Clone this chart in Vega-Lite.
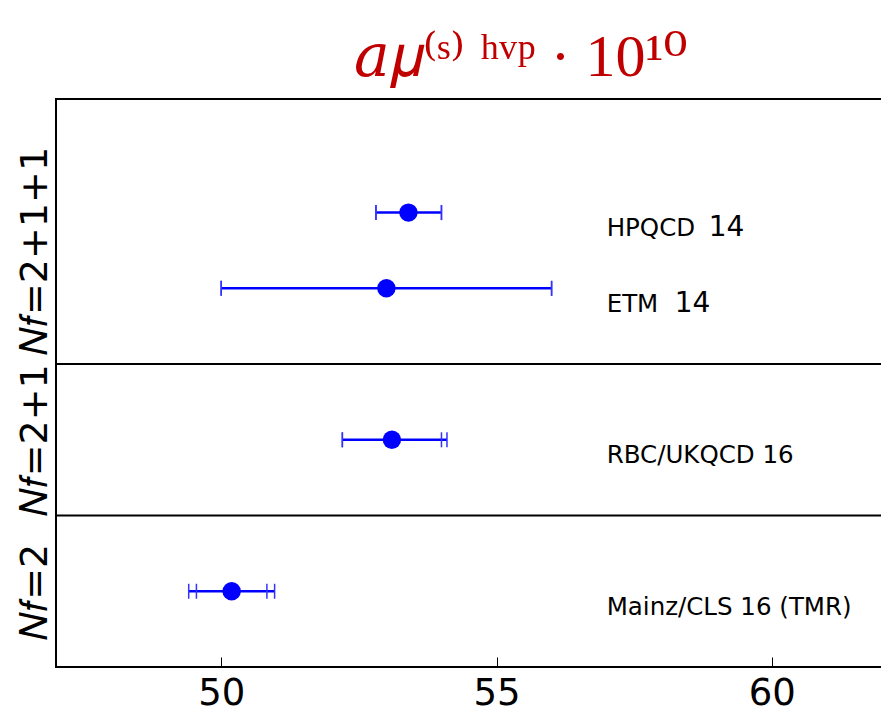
{
  "$schema": "https://vega.github.io/schema/vega-lite/v6.json",
  "width": 826,
  "height": 568,
  "autosize": {"type": "none"},
  "padding": {"left": 56, "top": 99, "right": 0, "bottom": 47},
  "background": "white",
  "config": {
    "view": {"stroke": "black", "strokeWidth": 2},
    "font": "DejaVu Sans"
  },
  "title": {
    "text": "𝑎𝜇⁽ˢ⁾ ʰᵛᵖ · 10¹⁰",
    "font": "'Liberation Serif', 'DejaVu Serif', serif",
    "fontSize": 60,
    "fontWeight": "normal",
    "color": "#C00000",
    "anchor": "start",
    "dx": 338,
    "offset": 18,
    "dy": 55,
    "baseline": "alphabetic"
  },
  "datasets": {
    "results": [
      {"name": "HPQCD", "year": "14", "pos": 6, "value": 53.4, "lo": 52.81, "hi": 54.0, "lo2": 52.81, "hi2": 54.0},
      {"name": "ETM", "year": "14", "pos": 5, "value": 53.0, "lo": 50.0, "hi": 56.0, "lo2": 50.0, "hi2": 56.0},
      {"name": "RBC/UKQCD 16", "year": "", "pos": 3, "value": 53.1, "lo": 52.2, "hi": 54.0, "lo2": 52.2, "hi2": 54.1},
      {"name": "Mainz/CLS 16 (TMR)", "year": "", "pos": 1, "value": 50.19, "lo": 49.55, "hi": 50.83, "lo2": 49.41, "hi2": 50.97}
    ],
    "separators": [{"sep": 2}, {"sep": 4}]
  },
  "layer": [
    {
      "data": {"name": "separators"},
      "mark": {"type": "rule", "color": "black", "strokeWidth": 2},
      "encoding": {
        "y": {
          "field": "sep",
          "type": "quantitative",
          "scale": {"domain": [0, 7.5], "nice": false, "zero": false},
          "axis": {
            "values": [1, 3, 5.5],
            "labelExpr": "datum.value == 1 ? '𝑁𝑓=2' : datum.value == 3 ? '𝑁𝑓=2+1' : '𝑁𝑓=2+1+1'",
            "labelAngle": -90,
            "labelAlign": "center",
            "labelBaseline": "bottom",
            "labelFontSize": 38,
            "labelColor": "black",
            "labelPadding": 2,
            "labelLimit": 500,
            "ticks": false,
            "domain": false,
            "grid": false,
            "title": null
          }
        }
      }
    },
    {
      "data": {"name": "results"},
      "mark": {"type": "rule", "color": "#0000ff", "strokeWidth": 2.5},
      "encoding": {
        "x": {
          "field": "lo2",
          "type": "quantitative",
          "scale": {"domain": [47, 62], "nice": false, "zero": false},
          "axis": {
            "values": [50, 55, 60],
            "labelFontSize": 37,
            "labelColor": "black",
            "labelPadding": 18,
            "tickSize": -10,
            "tickColor": "black",
            "tickWidth": 1,
            "domain": false,
            "grid": false,
            "title": null
          }
        },
        "x2": {"field": "hi2"},
        "y": {"field": "pos", "type": "quantitative"}
      }
    },
    {
      "data": {"name": "results"},
      "transform": [{"fold": ["lo", "hi", "lo2", "hi2"], "as": ["bound", "end"]}],
      "mark": {"type": "tick", "orient": "vertical", "color": "#3333ff", "size": 15, "thickness": 1.5, "opacity": 1},
      "encoding": {
        "x": {"field": "end", "type": "quantitative"},
        "y": {"field": "pos", "type": "quantitative"}
      }
    },
    {
      "data": {"name": "results"},
      "mark": {"type": "circle", "color": "#0000ff", "size": 340, "opacity": 1},
      "encoding": {
        "x": {"field": "value", "type": "quantitative"},
        "y": {"field": "pos", "type": "quantitative"}
      }
    },
    {
      "data": {"name": "results"},
      "mark": {"type": "text", "align": "left", "baseline": "alphabetic", "dy": 23.5, "fontSize": 24.5, "color": "black"},
      "encoding": {
        "x": {"datum": 57},
        "y": {"field": "pos", "type": "quantitative"},
        "text": {"field": "name"}
      }
    },
    {
      "data": {"name": "results"},
      "transform": [{"filter": "datum.name == 'HPQCD'"}],
      "mark": {"type": "text", "align": "left", "baseline": "alphabetic", "dy": 23.5, "dx": 102, "fontSize": 28, "color": "black"},
      "encoding": {
        "x": {"datum": 57},
        "y": {"field": "pos", "type": "quantitative"},
        "text": {"field": "year"}
      }
    },
    {
      "data": {"name": "results"},
      "transform": [{"filter": "datum.name == 'ETM'"}],
      "mark": {"type": "text", "align": "left", "baseline": "alphabetic", "dy": 23.5, "dx": 68, "fontSize": 28, "color": "black"},
      "encoding": {
        "x": {"datum": 57},
        "y": {"field": "pos", "type": "quantitative"},
        "text": {"field": "year"}
      }
    }
  ]
}
